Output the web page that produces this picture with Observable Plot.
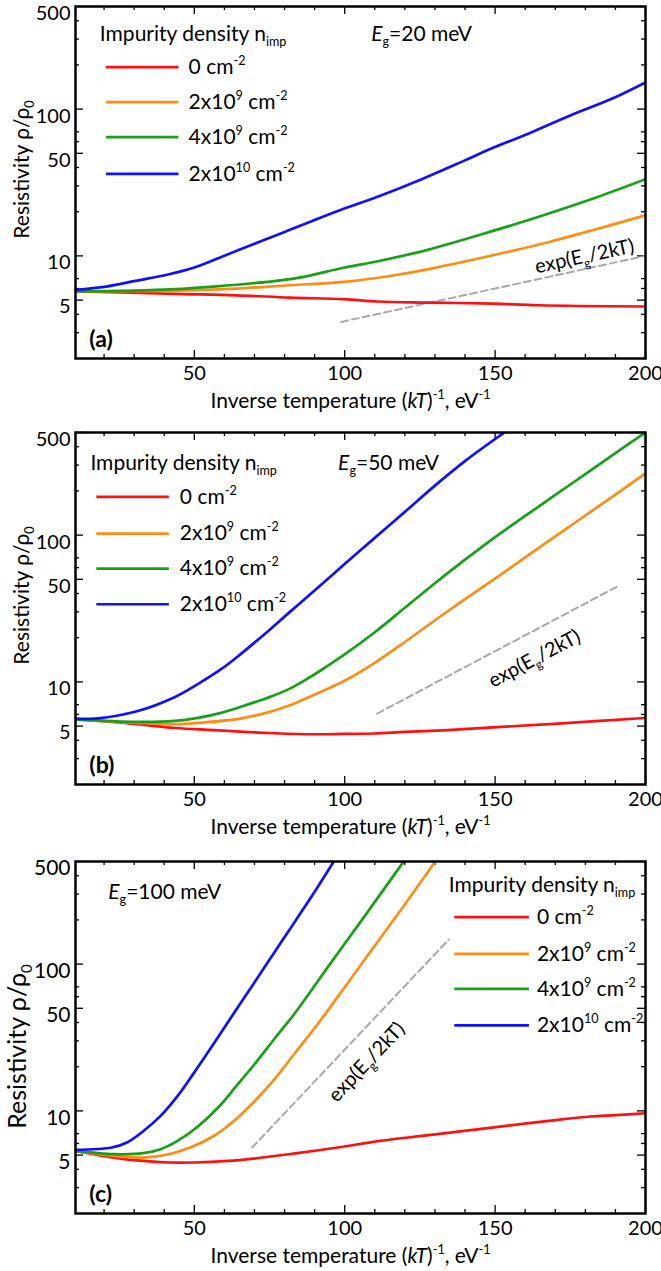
<!DOCTYPE html>
<html><head><meta charset="utf-8">
<script src="https://cdn.jsdelivr.net/npm/d3@7"></script>
<script src="https://cdn.jsdelivr.net/npm/@observablehq/plot@0.6"></script>
<style>
body{margin:0;background:#fff;}
#chart{width:661px;}
#chart svg{display:block;overflow:visible;}
</style></head><body><div id="chart"></div>
<script>
// ---------- data ----------
const seriesLabels = ["0 cm^{-2}", "2x10^{9} cm^{-2}", "4x10^{9} cm^{-2}", "2x10^{10} cm^{-2}"];
const seriesColors = ["#ff1010", "#ff8c14", "#18a018", "#1010ff"];
const xTicks = [50, 100, 150, 200];
const xMinorTicks = [20, 30, 40, 60, 70, 80, 90, 110, 120, 130, 140, 160, 170, 180, 190];
const yTicks = [5, 10, 50, 100, 500];
const yMinorTicks = [3, 4, 6, 7, 20, 30, 40, 60, 70, 200, 300, 400];
const xTitle = "Inverse temperature (~{kT})^{-1}, eV^{-1}";
const yTitle = "Resistivity ρ/ρ_{0}";
const legendTitle = "Impurity density n_{imp}";
const slopeLabel = "exp(E_{g}/2kT)";

// panel (a): Eg = 20 meV
const aRed = [[10.5,5.74],[43.6,5.51],[64,5.39],[81.8,5.2],[99.6,5.07],[111,4.89],[127.6,4.81],[149.3,4.73],[164.5,4.61],[200,4.52]];
const aOrange = [[10.5,5.74],[43.6,5.8],[64,5.99],[81.8,6.31],[99.6,6.65],[115,7.3],[127.6,8.1],[149.3,10.1],[167,12.3],[183.6,15.2],[200,18.9]];
const aGreen = [[10.5,5.74],[30.9,5.8],[43.6,5.93],[56.4,6.18],[74.2,6.65],[84.4,7.08],[99.6,8.3],[111,9.2],[127.6,11.0],[149.3,14.8],[164.5,18.5],[183.6,25],[200,33.3]];
const aBlue = [[10.5,5.86],[20.6,6.18],[30.4,6.76],[41.6,7.5],[50,8.33],[59.8,10.0],[69.6,12.0],[79.4,14.4],[89.2,17.3],[100.1,21.1],[111.6,25.6],[125.6,33.3],[139.6,44.4],[149.7,54.9],[160.6,67.5],[174.6,89.9],[188.6,117],[200,152]];
const aDash = [[98.8,3.55],[200,10.0]];

// panel (b): Eg = 50 meV
const bRed = [[10.5,5.56],[20,5.4],[30.9,5.15],[43.6,4.85],[56.4,4.7],[65.3,4.58],[76.7,4.47],[89.5,4.4],[99.6,4.42],[109.8,4.45],[120,4.56],[132.7,4.68],[149.3,4.9],[171,5.2],[200,5.68]];
const bOrange = [[10.5,5.56],[30.9,5.26],[43.6,5.15],[51.3,5.26],[65.3,5.62],[74.2,6.18],[81.8,6.93],[89.5,8.11],[99.6,10.1],[110,13.5],[120,18.7],[130,26.3],[140,36.6],[150,50.6],[160,70.5],[170,97.9],[180,136],[190,189],[200,263]];
const bGreen = [[10.5,5.56],[30.9,5.34],[43.6,5.42],[51.3,5.69],[58.9,6.15],[65.3,6.75],[74.2,7.78],[81.8,9.0],[89.5,11.1],[99.6,15.2],[110,21.8],[120,32],[130,47],[140,68],[150,97],[160,135],[170,188],[180,260],[190,362],[200,500]];
const bBlue = [[10.5,5.62],[16.9,5.62],[30.9,6.31],[43.6,7.9],[51.3,9.7],[58.9,12.2],[65.3,15.4],[74.2,21.9],[81.8,30],[89.5,41.1],[99.6,62.5],[109.8,95],[120,144],[130.2,219],[140.4,324],[153.1,500]];
const bDash = [[110.8,6.08],[190.4,44.4]];

// panel (c): Eg = 100 meV
const cRed = [[10.5,5.34],[23.3,4.81],[33.1,4.56],[41.6,4.45],[50,4.45],[61.2,4.56],[69.6,4.73],[83.6,5.14],[97.7,5.63],[111.7,6.24],[125.7,6.76],[139.7,7.3],[153.7,7.9],[167.8,8.55],[181.8,9.16],[190.2,9.35],[200,9.64]];
const cOrange = [[10.5,5.34],[23.3,4.93],[33.1,4.81],[41.6,5.07],[48.6,5.63],[55.6,6.59],[62.6,8.34],[69.6,11.4],[76.6,16.4],[83.6,25],[90.6,38],[97.7,60],[104.6,94],[111.7,149],[120.1,257],[129.9,494]];
const cGreen = [[10.5,5.34],[23.3,5.07],[33.1,5.15],[38.8,5.48],[44.4,6.24],[51.4,7.9],[58.4,10.8],[64,14.8],[69.6,20.3],[76.6,30.9],[83.6,46.8],[94.8,98],[106.1,205],[119.4,493]];
const cBlue = [[10.5,5.42],[22.6,5.63],[27.6,6.09],[33.1,7.3],[38.8,9.25],[44.4,12.6],[50,18.3],[55.6,27.0],[62.6,44.5],[69.6,73],[76.6,120],[83.6,197],[90.6,325],[96.2,494]];
const cDash = [[69.2,5.62],[134.6,147]];

// ---------- panel options (annotation anchors in data units) ----------
const panels = [
  {tag:"(a)", gap:"~{E}_{g}=20 meV", series:[aRed,aOrange,aGreen,aBlue], dash:aDash,
   height:424, marginTop:6, marginBottom:66, yFont:20, yTitleFont:21, yTitleDx:-53, yTitleDy:-13,
   title:[18.6,326], rows:[193,111.5,64.4,36.2], sw:[20.8,44.9], lab:48.1, gapAt:[108.8,326],
   slopeAt:[179.7,9.91], slopeRot:-12.2},
  {tag:"(b)", gap:"~{E}_{g}=50 meV", series:[bRed,bOrange,bGreen,bBlue], dash:bDash,
   height:428, marginTop:8, marginBottom:68, yFont:20, yTitleFont:21, yTitleDx:-53, yTitleDy:-13,
   title:[15.45,307], rows:[182,102.5,59.2,33.8], sw:[17.6,41.7], lab:45.2, gapAt:[97.8,307],
   slopeAt:[163.1,14.4], slopeRot:-27.9},
  {tag:"(c)", gap:"~{E}_{g}=100 meV", series:[cRed,cOrange,cGreen,cBlue], dash:cDash,
   height:419, marginTop:9, marginBottom:58, yFont:21, yTitleFont:25, yTitleDx:-58, yTitleDy:9,
   title:[134.6,343], rows:[208.7,117.5,67.9,38.2], sw:[136.6,161.4], lab:163.9, gapAt:[21.4,309],
   slopeAt:[107.3,21.5], slopeRot:-46.6}
];

// ---------- rich text (sub/superscript, italic) ----------
function richify(root) {
  root.querySelectorAll("text").forEach(t => {
    const s = t.textContent;
    if (!/[\^_~]\{/.test(s)) return;
    while (t.firstChild) t.removeChild(t.firstChild);
    t.style.whiteSpace = "pre";
    const re = /([\^_~])\{([^}]*)\}|([^\^_~]+)/g;
    let m, shift = 0;
    while ((m = re.exec(s))) {
      const ts = document.createElementNS("http://www.w3.org/2000/svg", "tspan");
      let target = 0, scale = 1;
      if (m[1] === "^") { target = -0.42; scale = 0.6; ts.textContent = m[2]; }
      else if (m[1] === "_") { target = 0.24; scale = 0.6; ts.textContent = m[2]; }
      else if (m[1] === "~") { ts.textContent = m[2]; ts.setAttribute("font-style", "italic"); }
      else ts.textContent = m[3];
      if (scale !== 1) ts.setAttribute("font-size", scale + "em");
      const d = (target - shift) / scale;
      if (Math.abs(d) > 1e-6) ts.setAttribute("dy", d.toFixed(3) + "em");
      shift = target;
      t.appendChild(ts);
    }
  });
}

// ---------- build ----------
const W = 661, mL = 75, mR = 16;
const font = "Lato, 'Open Sans', 'DejaVu Sans', sans-serif";
const chart = document.getElementById("chart");

panels.forEach(p => {
  const H = p.height - p.marginTop - p.marginBottom;
  const PW = W - mL - mR;
  const tick = {stroke: "black", strokeWidth: 1.3};
  const rows = seriesLabels.map((label, k) => ({label, k, y: p.rows[k]}));
  const marks = [
    Plot.ruleX(xTicks, {x: d => d, insetTop: H - 8, ...tick}),
    Plot.ruleX(xTicks, {x: d => d, insetBottom: H - 8, ...tick}),
    Plot.ruleX(xMinorTicks, {x: d => d, insetTop: H - 4, ...tick}),
    Plot.ruleX(xMinorTicks, {x: d => d, insetBottom: H - 4, ...tick}),
    Plot.ruleY(yTicks, {y: d => d, insetRight: PW - 8, ...tick}),
    Plot.ruleY(yTicks, {y: d => d, insetLeft: PW - 8, ...tick}),
    Plot.ruleY(yMinorTicks, {y: d => d, insetRight: PW - 4, ...tick}),
    Plot.ruleY(yMinorTicks, {y: d => d, insetLeft: PW - 4, ...tick}),
    Plot.line(p.dash, {x: d => d[0], y: d => d[1], stroke: "#a8a8a8", strokeWidth: 2, strokeDasharray: "7,4"}),
    ...p.series.map((s, k) => Plot.line(s, {x: d => d[0], y: d => d[1], stroke: seriesColors[k], strokeWidth: 2.7, curve: "catmull-rom", clip: true})),
    ...rows.map(r => Plot.ruleY([r], {y: "y", x1: p.sw[0], x2: p.sw[1], stroke: seriesColors[r.k], strokeWidth: 2.7})),
    Plot.text(rows, {x: p.lab, y: "y", text: "label", textAnchor: "start", fontSize: 21}),
    Plot.text([legendTitle], {x: p.title[0], y: p.title[1], text: d => d, textAnchor: "start", fontSize: 21}),
    Plot.text([p.gap], {x: p.gapAt[0], y: p.gapAt[1], text: d => d, textAnchor: "start", fontSize: 21}),
    Plot.text([p.tag], {x: 15.1, y: 2.67, text: d => d, textAnchor: "start", fontSize: 23, fontWeight: "bold"}),
    Plot.text([slopeLabel], {x: p.slopeAt[0], y: p.slopeAt[1], text: d => d, rotate: p.slopeRot, fontSize: 20}),
    Plot.text([xTitle], {frameAnchor: "bottom", lineAnchor: "middle", textAnchor: "middle", dy: 43, dx: -10, fontSize: 21}),
    Plot.text([yTitle], {frameAnchor: "left", lineAnchor: "middle", textAnchor: "middle", rotate: -90, dx: p.yTitleDx, dy: p.yTitleDy, fontSize: p.yTitleFont}),
    Plot.text(yTicks, {y: d => d, text: d => String(d), frameAnchor: "left", textAnchor: "end", lineAnchor: "middle", dx: -5, dy: 7, fontSize: p.yFont}),
    Plot.frame({stroke: "black", strokeWidth: 2.5}),
    Plot.axisX({ticks: xTicks, tickSize: 0, tickPadding: 7, fontSize: 20, label: null, tickFormat: d => String(d)})
  ];
  const svg = Plot.plot({
    width: W, height: p.height,
    marginLeft: mL, marginRight: mR, marginTop: p.marginTop, marginBottom: p.marginBottom,
    style: {fontFamily: font, fontSize: "20px", color: "black", background: "white", overflow: "visible"},
    x: {domain: [10.5, 200], label: null},
    y: {type: "log", domain: [2, 500], label: null, axis: null},
    marks
  });
  richify(svg);
  chart.appendChild(svg);
});
</script>
</body></html>
